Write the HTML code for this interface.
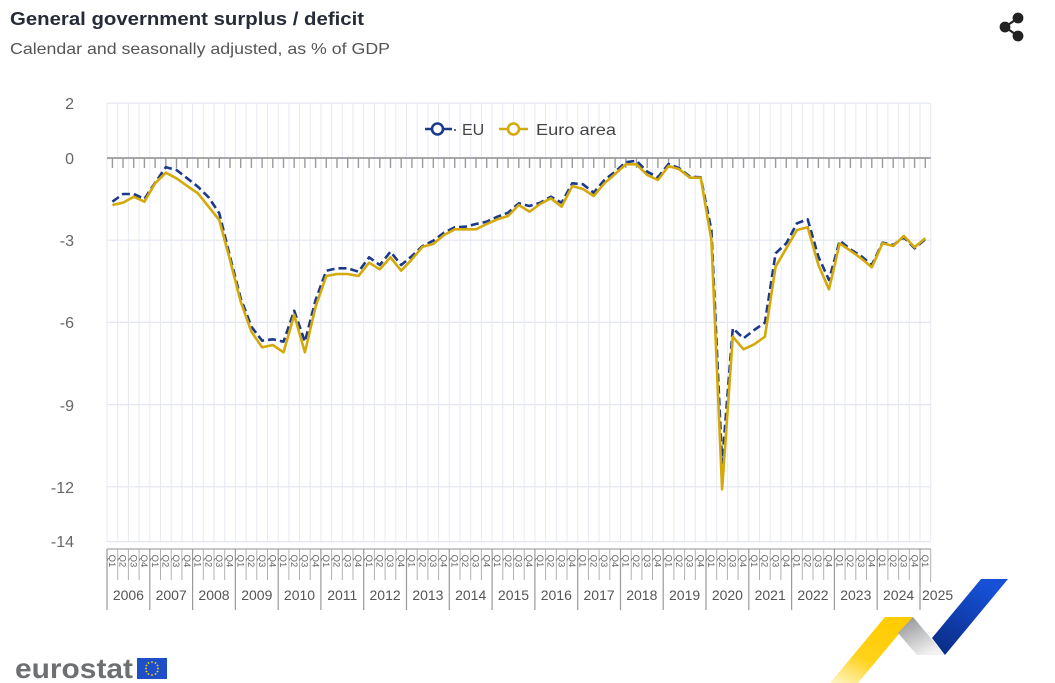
<!DOCTYPE html>
<html>
<head>
<meta charset="utf-8">
<style>
html,body{margin:0;padding:0;background:#fff;}
svg{display:block;}
text{font-family:"Liberation Sans",Arial,sans-serif;}
</style>
</head>
<body>
<svg width="1055" height="683" viewBox="0 0 1055 683" xmlns="http://www.w3.org/2000/svg">
<defs>
<linearGradient id="gy" x1="0" y1="1" x2="0.6" y2="0">
<stop offset="0" stop-color="#fff6cc"/>
<stop offset="0.45" stop-color="#ffd21a"/>
<stop offset="1" stop-color="#ffcc00"/>
</linearGradient>
<linearGradient id="gg" x1="0" y1="0" x2="0.6" y2="1">
<stop offset="0" stop-color="#8c8d90"/>
<stop offset="1" stop-color="#f2f2f2"/>
</linearGradient>
<linearGradient id="gb" x1="0" y1="1" x2="0.5" y2="0">
<stop offset="0" stop-color="#0a2a80"/>
<stop offset="1" stop-color="#1550d6"/>
</linearGradient>
</defs>

<!-- Title -->
<text x="10" y="25" font-size="18" font-weight="bold" fill="#262b38" textLength="354" lengthAdjust="spacingAndGlyphs">General government surplus / deficit</text>
<text x="10" y="54" font-size="16" fill="#555" textLength="380" lengthAdjust="spacingAndGlyphs">Calendar and seasonally adjusted, as % of GDP</text>

<!-- Share icon -->
<g stroke="#222" stroke-width="2.2" fill="#222">
<line x1="1018" y1="18" x2="1005" y2="27"/>
<line x1="1005" y1="27" x2="1018" y2="36"/>
<circle cx="1018" cy="18" r="4.3"/>
<circle cx="1005" cy="27" r="4.3"/>
<circle cx="1018" cy="36" r="4.3"/>
</g>

<!-- vertical gridlines -->
<path stroke="#e6e9f4" stroke-width="1" fill="none" d="M107,103V541 M117.7,103V541 M128.4,103V541 M139.1,103V541 M149.8,103V541 M160.5,103V541 M171.2,103V541 M181.9,103V541 M192.6,103V541 M203.3,103V541 M214,103V541 M224.7,103V541 M235.4,103V541 M246.1,103V541 M256.8,103V541 M267.5,103V541 M278.2,103V541 M288.9,103V541 M299.5,103V541 M310.2,103V541 M320.9,103V541 M331.6,103V541 M342.3,103V541 M353,103V541 M363.7,103V541 M374.4,103V541 M385.1,103V541 M395.8,103V541 M406.5,103V541 M417.2,103V541 M427.9,103V541 M438.6,103V541 M449.3,103V541 M460,103V541 M470.7,103V541 M481.4,103V541 M492.1,103V541 M502.8,103V541 M513.5,103V541 M524.2,103V541 M534.9,103V541 M545.6,103V541 M556.3,103V541 M567,103V541 M577.7,103V541 M588.4,103V541 M599.1,103V541 M609.8,103V541 M620.5,103V541 M631.2,103V541 M641.9,103V541 M652.5,103V541 M663.2,103V541 M673.9,103V541 M684.6,103V541 M695.3,103V541 M706,103V541 M716.7,103V541 M727.4,103V541 M738.1,103V541 M748.8,103V541 M759.5,103V541 M770.2,103V541 M780.9,103V541 M791.6,103V541 M802.3,103V541 M813,103V541 M823.7,103V541 M834.4,103V541 M845.1,103V541 M855.8,103V541 M866.5,103V541 M877.2,103V541 M887.9,103V541 M898.6,103V541 M909.3,103V541 M920,103V541 M930.7,103V541"/>

<!-- horizontal gridlines -->
<path stroke="#e3e6f1" stroke-width="1.2" fill="none" d="M107,103.2H930.7 M107,240.2H930.7 M107,322.4H930.7 M107,404.6H930.7 M107,486.8H930.7 M107,541.6H930.7"/>

<!-- zero axis -->
<line x1="107" y1="158" x2="930.7" y2="158" stroke="#8c8c8c" stroke-width="1.5"/>
<path stroke="#9a9a9a" stroke-width="1.4" fill="none" d="M112.4,158V168 M123,158V168 M133.7,158V168 M144.4,158V168 M155.1,158V168 M165.8,158V168 M176.5,158V168 M187.2,158V168 M197.9,158V168 M208.6,158V168 M219.3,158V168 M230,158V168 M240.7,158V168 M251.4,158V168 M262.1,158V168 M272.8,158V168 M283.5,158V168 M294.2,158V168 M304.9,158V168 M315.6,158V168 M326.3,158V168 M337,158V168 M347.7,158V168 M358.4,158V168 M369.1,158V168 M379.8,158V168 M390.5,158V168 M401.2,158V168 M411.9,158V168 M422.6,158V168 M433.3,158V168 M444,158V168 M454.7,158V168 M465.4,158V168 M476,158V168 M486.7,158V168 M497.4,158V168 M508.1,158V168 M518.8,158V168 M529.5,158V168 M540.2,158V168 M550.9,158V168 M561.6,158V168 M572.3,158V168 M583,158V168 M593.7,158V168 M604.4,158V168 M615.1,158V168 M625.8,158V168 M636.5,158V168 M647.2,158V168 M657.9,158V168 M668.6,158V168 M679.3,158V168 M690,158V168 M700.7,158V168 M711.4,158V168 M722.1,158V168 M732.8,158V168 M743.5,158V168 M754.2,158V168 M764.9,158V168 M775.6,158V168 M786.3,158V168 M797,158V168 M807.7,158V168 M818.4,158V168 M829,158V168 M839.7,158V168 M850.4,158V168 M861.1,158V168 M871.8,158V168 M882.5,158V168 M893.2,158V168 M903.9,158V168 M914.6,158V168 M925.3,158V168"/>

<!-- Y labels -->
<g font-size="16" fill="#666" text-anchor="end">
<text x="74" y="109">2</text>
<text x="74" y="164">0</text>
<text x="74" y="246">-3</text>
<text x="74" y="328">-6</text>
<text x="74" y="411">-9</text>
<text x="74" y="493">-12</text>
<text x="74" y="547">-14</text>
</g>

<!-- Series: EU (dashed) -->
<path fill="none" stroke="#1d3a8a" stroke-width="2.6" stroke-dasharray="8,4" stroke-linejoin="round" d="M112.4,201.7 L123,194 L133.7,194 L144.4,199 L155.1,182.7 L165.8,167.3 L176.5,170 L187.2,178.3 L197.9,186.7 L208.6,197.3 L219.3,213.3 L230,256.7 L240.7,298.3 L251.4,326.7 L262.1,340.7 L272.8,339.3 L283.5,341.7 L294.2,310.7 L304.9,341.7 L315.6,300 L326.3,270.7 L337,268.3 L347.7,268.3 L358.4,271.7 L369.1,257.3 L379.8,265 L390.5,251.7 L401.2,265 L411.9,256 L422.6,246 L433.3,240.7 L444,232.7 L454.7,227.3 L465.4,226.7 L476,224 L486.7,221.7 L497.4,216.7 L508.1,212.7 L518.8,203.3 L529.5,206 L540.2,202.7 L550.9,196.7 L561.6,202.7 L572.3,183.3 L583,184.3 L593.7,192.7 L604.4,180 L615.1,171.7 L625.8,162.3 L636.5,160.7 L647.2,171.7 L657.9,177.3 L668.6,164 L679.3,168.3 L690,176.7 L700.7,177.3 L711.4,230 L722.1,463 L732.8,328.3 L743.5,338.3 L754.2,330 L764.9,322.7 L775.6,253.3 L786.3,243.3 L797,223.3 L807.7,219.3 L818.4,256.7 L829,280 L839.7,240.7 L850.4,249.3 L861.1,256 L871.8,265 L882.5,242.7 L893.2,245 L903.9,237.3 L914.6,248.3 L925.3,239.3"/>

<!-- Series: Euro area -->
<path fill="none" stroke="#d4a90a" stroke-width="2.6" stroke-linejoin="round" d="M112.4,205 L123,202.7 L133.7,196.7 L144.4,201.7 L155.1,183.3 L165.8,172.7 L176.5,178.3 L187.2,186 L197.9,193.3 L208.6,206.7 L219.3,220 L230,260 L240.7,301.7 L251.4,331.7 L262.1,347.3 L272.8,345 L283.5,352.3 L294.2,315 L304.9,352.3 L315.6,306.7 L326.3,276 L337,274 L347.7,274 L358.4,276 L369.1,262.7 L379.8,269.3 L390.5,257.3 L401.2,270.7 L411.9,259.3 L422.6,246.7 L433.3,244 L444,235 L454.7,229.3 L465.4,229.3 L476,229.3 L486.7,224 L497.4,219.3 L508.1,216 L518.8,205 L529.5,211.7 L540.2,204 L550.9,198.3 L561.6,206.7 L572.3,186 L583,189 L593.7,196 L604.4,183.3 L615.1,174 L625.8,164.3 L636.5,164.3 L647.2,175 L657.9,180 L668.6,166 L679.3,169.3 L690,177.7 L700.7,177.7 L711.4,240 L722.1,489.3 L732.8,336.7 L743.5,349.3 L754.2,344.3 L764.9,336.7 L775.6,266.7 L786.3,248.3 L797,230 L807.7,227.3 L818.4,265 L829,289.3 L839.7,243.3 L850.4,250.7 L861.1,258.3 L871.8,267.3 L882.5,243.3 L893.2,246 L903.9,236 L914.6,247.3 L925.3,238.3"/>

<!-- Legend -->
<g>
<line x1="425" y1="129" x2="452" y2="129" stroke="#1d3a8a" stroke-width="2.6"/>
<circle cx="437.5" cy="129" r="5.5" fill="#fff" stroke="#1d3a8a" stroke-width="2.6"/>
<circle cx="455" cy="130" r="1" fill="#1d3a8a"/>
<text x="462" y="135" font-size="16" fill="#444">EU</text>
<line x1="499" y1="129" x2="528" y2="129" stroke="#d4a90a" stroke-width="2.6"/>
<circle cx="513.5" cy="129" r="5.5" fill="#fff" stroke="#d4a90a" stroke-width="2.6"/>
<text x="536" y="135" font-size="16" fill="#444" textLength="80" lengthAdjust="spacingAndGlyphs">Euro area</text>
</g>

<!-- X axis box -->
<line x1="107" y1="549" x2="930.7" y2="549" stroke="#a8a8a8" stroke-width="1.2"/>
<path stroke="#b0b0b0" stroke-width="1" fill="none" d="M117.7,549V580 M128.4,549V580 M139.1,549V580 M160.5,549V580 M171.2,549V580 M181.9,549V580 M203.3,549V580 M214,549V580 M224.7,549V580 M246.1,549V580 M256.8,549V580 M267.5,549V580 M288.9,549V580 M299.5,549V580 M310.2,549V580 M331.6,549V580 M342.3,549V580 M353,549V580 M374.4,549V580 M385.1,549V580 M395.8,549V580 M417.2,549V580 M427.9,549V580 M438.6,549V580 M460,549V580 M470.7,549V580 M481.4,549V580 M502.8,549V580 M513.5,549V580 M524.2,549V580 M545.6,549V580 M556.3,549V580 M567,549V580 M588.4,549V580 M599.1,549V580 M609.8,549V580 M631.2,549V580 M641.9,549V580 M652.5,549V580 M673.9,549V580 M684.6,549V580 M695.3,549V580 M716.7,549V580 M727.4,549V580 M738.1,549V580 M759.5,549V580 M770.2,549V580 M780.9,549V580 M802.3,549V580 M813,549V580 M823.7,549V580 M845.1,549V580 M855.8,549V580 M866.5,549V580 M887.9,549V580 M898.6,549V580 M909.3,549V580 M930.7,549V582"/>
<path stroke="#9a9a9a" stroke-width="1.2" fill="none" d="M107,549V610 M149.8,549V610 M192.6,549V610 M235.4,549V610 M278.2,549V610 M320.9,549V610 M363.7,549V610 M406.5,549V610 M449.3,549V610 M492.1,549V610 M534.9,549V610 M577.7,549V610 M620.5,549V610 M663.2,549V610 M706,549V610 M748.8,549V610 M791.6,549V610 M834.4,549V610 M877.2,549V610 M920,549V610"/>

<!-- Quarter labels -->
<g font-size="9.5" fill="#666" text-anchor="middle">
<text transform="translate(112.4,561) rotate(90)" dy="0.35em">Q1</text>
<text transform="translate(123,561) rotate(90)" dy="0.35em">Q2</text>
<text transform="translate(133.7,561) rotate(90)" dy="0.35em">Q3</text>
<text transform="translate(144.4,561) rotate(90)" dy="0.35em">Q4</text>
<text transform="translate(155.1,561) rotate(90)" dy="0.35em">Q1</text>
<text transform="translate(165.8,561) rotate(90)" dy="0.35em">Q2</text>
<text transform="translate(176.5,561) rotate(90)" dy="0.35em">Q3</text>
<text transform="translate(187.2,561) rotate(90)" dy="0.35em">Q4</text>
<text transform="translate(197.9,561) rotate(90)" dy="0.35em">Q1</text>
<text transform="translate(208.6,561) rotate(90)" dy="0.35em">Q2</text>
<text transform="translate(219.3,561) rotate(90)" dy="0.35em">Q3</text>
<text transform="translate(230,561) rotate(90)" dy="0.35em">Q4</text>
<text transform="translate(240.7,561) rotate(90)" dy="0.35em">Q1</text>
<text transform="translate(251.4,561) rotate(90)" dy="0.35em">Q2</text>
<text transform="translate(262.1,561) rotate(90)" dy="0.35em">Q3</text>
<text transform="translate(272.8,561) rotate(90)" dy="0.35em">Q4</text>
<text transform="translate(283.5,561) rotate(90)" dy="0.35em">Q1</text>
<text transform="translate(294.2,561) rotate(90)" dy="0.35em">Q2</text>
<text transform="translate(304.9,561) rotate(90)" dy="0.35em">Q3</text>
<text transform="translate(315.6,561) rotate(90)" dy="0.35em">Q4</text>
<text transform="translate(326.3,561) rotate(90)" dy="0.35em">Q1</text>
<text transform="translate(337,561) rotate(90)" dy="0.35em">Q2</text>
<text transform="translate(347.7,561) rotate(90)" dy="0.35em">Q3</text>
<text transform="translate(358.4,561) rotate(90)" dy="0.35em">Q4</text>
<text transform="translate(369.1,561) rotate(90)" dy="0.35em">Q1</text>
<text transform="translate(379.8,561) rotate(90)" dy="0.35em">Q2</text>
<text transform="translate(390.5,561) rotate(90)" dy="0.35em">Q3</text>
<text transform="translate(401.2,561) rotate(90)" dy="0.35em">Q4</text>
<text transform="translate(411.9,561) rotate(90)" dy="0.35em">Q1</text>
<text transform="translate(422.6,561) rotate(90)" dy="0.35em">Q2</text>
<text transform="translate(433.3,561) rotate(90)" dy="0.35em">Q3</text>
<text transform="translate(444,561) rotate(90)" dy="0.35em">Q4</text>
<text transform="translate(454.7,561) rotate(90)" dy="0.35em">Q1</text>
<text transform="translate(465.4,561) rotate(90)" dy="0.35em">Q2</text>
<text transform="translate(476,561) rotate(90)" dy="0.35em">Q3</text>
<text transform="translate(486.7,561) rotate(90)" dy="0.35em">Q4</text>
<text transform="translate(497.4,561) rotate(90)" dy="0.35em">Q1</text>
<text transform="translate(508.1,561) rotate(90)" dy="0.35em">Q2</text>
<text transform="translate(518.8,561) rotate(90)" dy="0.35em">Q3</text>
<text transform="translate(529.5,561) rotate(90)" dy="0.35em">Q4</text>
<text transform="translate(540.2,561) rotate(90)" dy="0.35em">Q1</text>
<text transform="translate(550.9,561) rotate(90)" dy="0.35em">Q2</text>
<text transform="translate(561.6,561) rotate(90)" dy="0.35em">Q3</text>
<text transform="translate(572.3,561) rotate(90)" dy="0.35em">Q4</text>
<text transform="translate(583,561) rotate(90)" dy="0.35em">Q1</text>
<text transform="translate(593.7,561) rotate(90)" dy="0.35em">Q2</text>
<text transform="translate(604.4,561) rotate(90)" dy="0.35em">Q3</text>
<text transform="translate(615.1,561) rotate(90)" dy="0.35em">Q4</text>
<text transform="translate(625.8,561) rotate(90)" dy="0.35em">Q1</text>
<text transform="translate(636.5,561) rotate(90)" dy="0.35em">Q2</text>
<text transform="translate(647.2,561) rotate(90)" dy="0.35em">Q3</text>
<text transform="translate(657.9,561) rotate(90)" dy="0.35em">Q4</text>
<text transform="translate(668.6,561) rotate(90)" dy="0.35em">Q1</text>
<text transform="translate(679.3,561) rotate(90)" dy="0.35em">Q2</text>
<text transform="translate(690,561) rotate(90)" dy="0.35em">Q3</text>
<text transform="translate(700.7,561) rotate(90)" dy="0.35em">Q4</text>
<text transform="translate(711.4,561) rotate(90)" dy="0.35em">Q1</text>
<text transform="translate(722.1,561) rotate(90)" dy="0.35em">Q2</text>
<text transform="translate(732.8,561) rotate(90)" dy="0.35em">Q3</text>
<text transform="translate(743.5,561) rotate(90)" dy="0.35em">Q4</text>
<text transform="translate(754.2,561) rotate(90)" dy="0.35em">Q1</text>
<text transform="translate(764.9,561) rotate(90)" dy="0.35em">Q2</text>
<text transform="translate(775.6,561) rotate(90)" dy="0.35em">Q3</text>
<text transform="translate(786.3,561) rotate(90)" dy="0.35em">Q4</text>
<text transform="translate(797,561) rotate(90)" dy="0.35em">Q1</text>
<text transform="translate(807.7,561) rotate(90)" dy="0.35em">Q2</text>
<text transform="translate(818.4,561) rotate(90)" dy="0.35em">Q3</text>
<text transform="translate(829,561) rotate(90)" dy="0.35em">Q4</text>
<text transform="translate(839.7,561) rotate(90)" dy="0.35em">Q1</text>
<text transform="translate(850.4,561) rotate(90)" dy="0.35em">Q2</text>
<text transform="translate(861.1,561) rotate(90)" dy="0.35em">Q3</text>
<text transform="translate(871.8,561) rotate(90)" dy="0.35em">Q4</text>
<text transform="translate(882.5,561) rotate(90)" dy="0.35em">Q1</text>
<text transform="translate(893.2,561) rotate(90)" dy="0.35em">Q2</text>
<text transform="translate(903.9,561) rotate(90)" dy="0.35em">Q3</text>
<text transform="translate(914.6,561) rotate(90)" dy="0.35em">Q4</text>
<text transform="translate(925.3,561) rotate(90)" dy="0.35em">Q1</text>
</g>

<!-- Year labels -->
<g font-size="14" fill="#555" text-anchor="middle">
<text x="128.4" y="600">2006</text>
<text x="171.2" y="600">2007</text>
<text x="214" y="600">2008</text>
<text x="256.8" y="600">2009</text>
<text x="299.5" y="600">2010</text>
<text x="342.3" y="600">2011</text>
<text x="385.1" y="600">2012</text>
<text x="427.9" y="600">2013</text>
<text x="470.7" y="600">2014</text>
<text x="513.5" y="600">2015</text>
<text x="556.3" y="600">2016</text>
<text x="599.1" y="600">2017</text>
<text x="641.8" y="600">2018</text>
<text x="684.6" y="600">2019</text>
<text x="727.4" y="600">2020</text>
<text x="770.2" y="600">2021</text>
<text x="813" y="600">2022</text>
<text x="855.8" y="600">2023</text>
<text x="898.6" y="600">2024</text>
<text x="922" y="600" text-anchor="start">2025</text>
</g>

<!-- Decorative logo bottom right -->
<polygon points="830,683 885,617 913,617 858,683" fill="url(#gy)"/>
<polygon points="898,633 913,617 945,655 917,655" fill="url(#gg)"/>
<polygon points="932,638 981,579 1008,579 945,655" fill="url(#gb)"/>

<!-- eurostat logo -->
<text x="15" y="678" font-size="28" font-weight="bold" fill="#6e6f72" textLength="118" lengthAdjust="spacingAndGlyphs">eurostat</text>
<rect x="137" y="658" width="30" height="21" fill="#1f4fc8"/>
<g fill="#ffdd00">
<circle cx="152" cy="662" r="0.9"/>
<circle cx="155.5" cy="663" r="0.9"/>
<circle cx="157.5" cy="665.5" r="0.9"/>
<circle cx="158" cy="668.5" r="0.9"/>
<circle cx="157.5" cy="671.5" r="0.9"/>
<circle cx="155.5" cy="674" r="0.9"/>
<circle cx="152" cy="675" r="0.9"/>
<circle cx="148.5" cy="674" r="0.9"/>
<circle cx="146.5" cy="671.5" r="0.9"/>
<circle cx="146" cy="668.5" r="0.9"/>
<circle cx="146.5" cy="665.5" r="0.9"/>
<circle cx="148.5" cy="663" r="0.9"/>
</g>
</svg>
</body>
</html>
